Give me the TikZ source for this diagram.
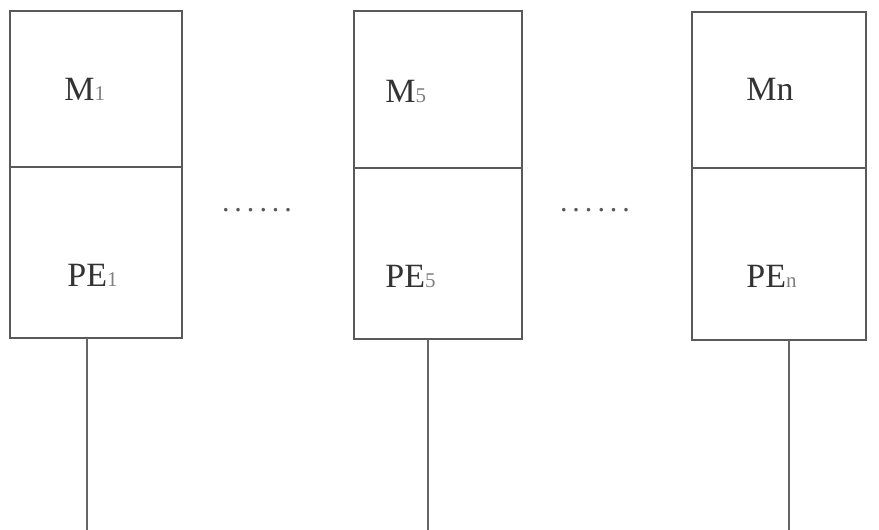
\documentclass[tikz,border=0pt]{standalone}
\usepackage{fontspec}
\setmainfont{Liberation Serif}
\usetikzlibrary{positioning}
\newcommand{\idxfont}{\fontsize{10.5}{12}\selectfont\color{black!50}}

\begin{document}
\begin{tikzpicture}[
	x=0.5pt, y=-0.5pt,
	cell/.style={
		draw=black!65,
		line width=0.9pt,
		inner sep=0pt,
		outer sep=0pt
	},
	tag/.style={
		anchor=base west,
		inner sep=0pt,
		text=black!80,
		font=\fontsize{17}{20}\selectfont
	},
	wire/.style={draw=black!60, line width=0.8pt}
]
\useasboundingbox (0,0) rectangle (879,530);

% memory / processor columns
\node[cell, anchor=north west, minimum width=86pt, minimum height=78pt] (M1) at (10,11) {};
\node[cell, below=0pt of M1, minimum width=86pt, minimum height=85.5pt] (PE1) {};
\node[cell, anchor=north west, minimum width=84pt, minimum height=78.5pt] (M5) at (354,11) {};
\node[cell, below=0pt of M5, minimum width=84pt, minimum height=85.5pt] (PE5) {};
\node[cell, anchor=north west, minimum width=87pt, minimum height=78pt] (Mn) at (692,12) {};
\node[cell, below=0pt of Mn, minimum width=87pt, minimum height=86pt] (PEn) {};

% labels
\node[tag] (M1t) at (64,100) {M{\idxfont 1}};
\node[tag] (PE1t) at (67,286) {PE{\idxfont 1}};
\node[tag] (M5t) at (385,102) {M{\idxfont 5}};
\node[tag] (PE5t) at (385,287) {PE{\idxfont 5}};
\node[tag] (Mnt) at (746,100) {Mn};
\node[tag] (PEnt) at (746,287) {PE{\idxfont n}};

\node[tag, anchor=base, text=black!65, font=\fontsize{15}{18}\selectfont] (dots1) at (257,211) {.\,.\,.\,.\,.\,.};
\node[tag, anchor=base, text=black!65, font=\fontsize{15}{18}\selectfont] (dots2) at (595,211) {.\,.\,.\,.\,.\,.};

% bus lines
\coordinate (bus1) at (87,530);
\coordinate (bus5) at (428,530);
\coordinate (busn) at (789,530);
\draw[wire] (PE1.south -| bus1) -- (bus1);
\draw[wire] (PE5.south -| bus5) -- (bus5);
\draw[wire] (PEn.south -| busn) -- (busn);
\end{tikzpicture}
\end{document}
